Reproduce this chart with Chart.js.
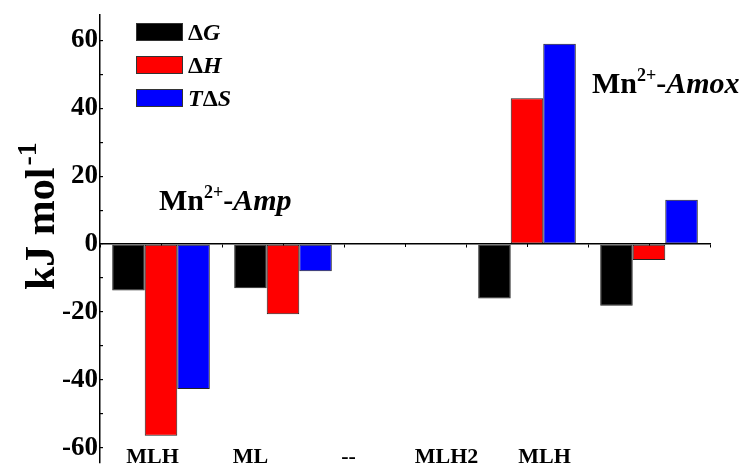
<!DOCTYPE html>
<html>
<head>
<meta charset="utf-8">
<script src="https://cdn.jsdelivr.net/npm/chart.js@4"></script>
<style>
  html, body { margin: 0; padding: 0; background: #fff; }
  #wrap { width: 748px; height: 468px; }
</style>
</head>
<body>
<div id="wrap"><canvas id="chart"></canvas></div>
<script>
// categories and values (kJ/mol)
const categories = ["MLH", "ML", "--", "MLH2", "MLH"];
const dG = [-13.7, -13.0, null, -16.0, -18.2];
const dH = [-56.5, -20.7, null, 43.0, -4.7];
const TdS = [-42.7, -8.0, null, 59.0, 13.1];
const seriesLabels = ["ΔG", "ΔH", "TΔS"];
const seriesColors = ["#000000", "#ff0000", "#0000ff"];

const serif = "'Times New Roman', 'Liberation Serif', serif";

// draws legend, annotations and y title (mixed italic / superscript text)
const decor = {
  id: "decor",
  afterDraw(chart) {
    const c = chart.ctx;
    c.save();
    c.fillStyle = "#000";
    c.textBaseline = "alphabetic";

    // legend built from the datasets
    chart.data.datasets.forEach((ds, i) => {
      const y = 23 + i * 33;
      c.fillStyle = ds.backgroundColor;
      c.fillRect(136, y, 47, 18);
      c.strokeStyle = "#333";
      c.lineWidth = 1;
      c.strokeRect(136.5, y + 0.5, 46, 17);
      let x = 188;
      c.fillStyle = "#000";
      for (const ch of ds.label) {
        c.font = (ch === "Δ" ? "bold " : "italic bold ") + "24px " + serif;
        c.textAlign = "left";
        c.fillText(ch, x, y + 17);
        x += c.measureText(ch).width;
      }
    });

    // "Mn2+-Amp" / "Mn2+-Amox"
    function label(x, y, name) {
      c.textAlign = "left";
      c.font = "bold 30px " + serif;
      c.fillText("Mn", x, y);
      x += c.measureText("Mn").width;
      c.font = "bold 18px " + serif;
      c.fillText("2+", x, y - 12);
      x += c.measureText("2+").width;
      c.font = "bold 30px " + serif;
      c.fillText("-", x, y);
      x += c.measureText("-").width;
      c.font = "italic bold 30px " + serif;
      c.fillText(name, x, y);
    }
    label(159, 210, "Amp");
    label(592, 93, "Amox");

    // y axis title with superscript
    c.translate(54, 290);
    c.rotate(-Math.PI / 2);
    c.font = "bold 42px " + serif;
    c.fillText("kJ mol", 0, 0);
    const w = c.measureText("kJ mol").width;
    c.font = "bold 28px " + serif;
    c.fillText("-1", w + 2, -18);
    c.restore();
  }
};

const ctx = document.getElementById("chart").getContext("2d");
const chart = new Chart(ctx, {
  type: "bar",
  data: {
    labels: categories,
    datasets: [
      { label: seriesLabels[0], data: dG, backgroundColor: seriesColors[0] },
      { label: seriesLabels[1], data: dH, backgroundColor: seriesColors[1] },
      { label: seriesLabels[2], data: TdS, backgroundColor: seriesColors[2] },
    ].map(d => Object.assign(d, {
      borderColor: "#222",
      borderWidth: 1,
      borderSkipped: false,
      categoryPercentage: 0.8,
      barPercentage: 1.0,
    })),
  },
  options: {
    responsive: true,
    maintainAspectRatio: false,
    animation: false,
    layout: { padding: { left: 0, right: 38, top: 15, bottom: 5 } },
    plugins: {
      legend: { display: false },
      tooltip: { enabled: false },
    },
    scales: {
      y: {
        min: -64.5,
        max: 67.5,
        afterFit: s => { s.width = 100; s.paddingTop = 0; s.paddingBottom = 0; },
        border: { display: true, color: "#000", width: 1.5 },
        grid: { drawOnChartArea: false, tickLength: -3, color: "#000", lineWidth: 1.2 },
        ticks: {
          stepSize: 10,
          includeBounds: false,
          padding: 5,
          color: "#000",
          font: { family: serif, size: 27, weight: "bold" },
          callback: v => (v % 20 === 0 ? v : ""),
        },
      },
      // zero line with boundary ticks
      x: {
        position: { y: 0 },
        border: { display: true, color: "#000", width: 1.5 },
        grid: { drawOnChartArea: false, offset: true, tickLength: 3, color: "#000" },
        ticks: { display: false },
      },
      // centre ticks on the zero line
      x3: {
        type: "category",
        axis: "x",
        position: { y: 0 },
        offset: true,
        border: { display: false },
        grid: { drawOnChartArea: false, offset: false, tickLength: 3, color: "#000" },
        ticks: { display: false },
      },
      // category names along the bottom
      x2: {
        type: "linear",
        axis: "x",
        position: { y: -55.7 },
        offset: false,
        min: -0.536,
        max: 5.688,
        border: { display: false },
        grid: { display: false },
        ticks: {
          stepSize: 1,
          includeBounds: false,
          autoSkip: false,
          maxRotation: 0,
          padding: 3,
          color: "#000",
          font: { family: serif, size: 22, weight: "bold" },
          callback: v => (Number.isInteger(v) && categories[v] !== undefined ? categories[v] : ""),
        },
      },
    },
  },
  plugins: [decor],
});
</script>
</body>
</html>
